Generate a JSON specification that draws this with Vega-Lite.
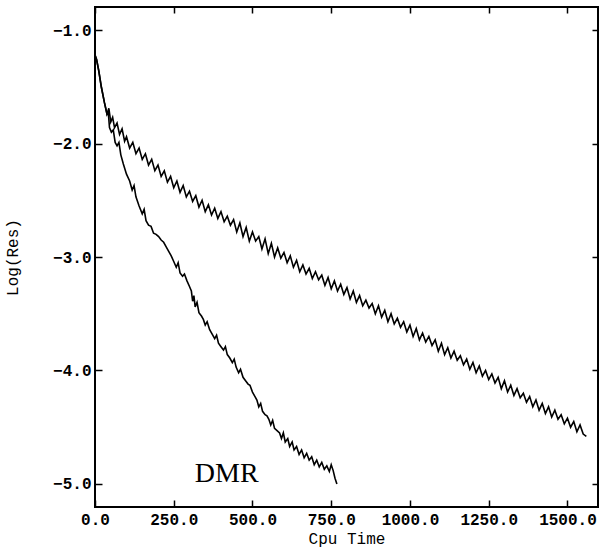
{
  "$schema": "https://vega.github.io/schema/vega-lite/v6.json",
  "width": 503,
  "height": 500,
  "autosize": {"type": "none"},
  "padding": {"left": 95, "top": 7, "right": 13, "bottom": 42},
  "background": "white",
  "config": {
    "view": {"stroke": "black", "strokeWidth": 2},
    "axis": {
      "domain": false,
      "grid": false,
      "tickColor": "black",
      "tickWidth": 1.5,
      "labelColor": "black",
      "labelFont": "Liberation Mono",
      "labelFontWeight": "bold",
      "labelFontSize": 16,
      "titleFont": "Liberation Mono",
      "titleFontWeight": "normal",
      "titleColor": "black"
    }
  },
  "datasets": {
    "upper": [
      {"t": 0, "r": -1.22}, {"t": 5, "r": -1.26}, {"t": 12, "r": -1.36}, {"t": 20, "r": -1.5}, {"t": 30, "r": -1.64}, {"t": 38, "r": -1.74},
      {"t": 44, "r": -1.69}, {"t": 50, "r": -1.81}, {"t": 56, "r": -1.77}, {"t": 62, "r": -1.86}, {"t": 70, "r": -1.82}, {"t": 78, "r": -1.92},
      {"t": 86, "r": -1.87}, {"t": 94, "r": -1.98}, {"t": 100, "r": -1.94}, {"t": 110, "r": -2.04}, {"t": 120, "r": -1.99}, {"t": 130, "r": -2.09},
      {"t": 140, "r": -2.04}, {"t": 150, "r": -2.14}, {"t": 160, "r": -2.09}, {"t": 170, "r": -2.19}, {"t": 180, "r": -2.14}, {"t": 190, "r": -2.24},
      {"t": 200, "r": -2.19}, {"t": 210, "r": -2.29}, {"t": 220, "r": -2.24}, {"t": 230, "r": -2.34}, {"t": 240, "r": -2.29}, {"t": 250, "r": -2.39},
      {"t": 260, "r": -2.33}, {"t": 270, "r": -2.43}, {"t": 280, "r": -2.37}, {"t": 290, "r": -2.47}, {"t": 300, "r": -2.42}, {"t": 310, "r": -2.51},
      {"t": 320, "r": -2.46}, {"t": 330, "r": -2.56}, {"t": 340, "r": -2.5}, {"t": 350, "r": -2.6}, {"t": 360, "r": -2.54}, {"t": 370, "r": -2.63},
      {"t": 380, "r": -2.57}, {"t": 390, "r": -2.66}, {"t": 400, "r": -2.6}, {"t": 410, "r": -2.69}, {"t": 420, "r": -2.64}, {"t": 430, "r": -2.72},
      {"t": 440, "r": -2.67}, {"t": 450, "r": -2.78}, {"t": 460, "r": -2.7}, {"t": 470, "r": -2.82}, {"t": 480, "r": -2.74}, {"t": 490, "r": -2.86},
      {"t": 500, "r": -2.78}, {"t": 510, "r": -2.86}, {"t": 520, "r": -2.82}, {"t": 530, "r": -2.93}, {"t": 540, "r": -2.84}, {"t": 550, "r": -2.97},
      {"t": 560, "r": -2.88}, {"t": 570, "r": -3.0}, {"t": 580, "r": -2.92}, {"t": 590, "r": -3.01}, {"t": 600, "r": -2.96}, {"t": 610, "r": -3.05},
      {"t": 620, "r": -2.99}, {"t": 630, "r": -3.09}, {"t": 640, "r": -3.03}, {"t": 650, "r": -3.13}, {"t": 660, "r": -3.07}, {"t": 670, "r": -3.15},
      {"t": 680, "r": -3.1}, {"t": 690, "r": -3.19}, {"t": 700, "r": -3.13}, {"t": 710, "r": -3.2}, {"t": 720, "r": -3.16}, {"t": 730, "r": -3.25},
      {"t": 740, "r": -3.18}, {"t": 750, "r": -3.28}, {"t": 760, "r": -3.21}, {"t": 770, "r": -3.3}, {"t": 780, "r": -3.24}, {"t": 790, "r": -3.33},
      {"t": 800, "r": -3.27}, {"t": 810, "r": -3.37}, {"t": 820, "r": -3.3}, {"t": 830, "r": -3.4}, {"t": 840, "r": -3.34}, {"t": 850, "r": -3.43},
      {"t": 860, "r": -3.38}, {"t": 870, "r": -3.45}, {"t": 880, "r": -3.41}, {"t": 890, "r": -3.5}, {"t": 900, "r": -3.43}, {"t": 910, "r": -3.53},
      {"t": 920, "r": -3.47}, {"t": 930, "r": -3.57}, {"t": 940, "r": -3.5}, {"t": 950, "r": -3.59}, {"t": 960, "r": -3.54}, {"t": 970, "r": -3.62},
      {"t": 980, "r": -3.57}, {"t": 990, "r": -3.66}, {"t": 1000, "r": -3.6}, {"t": 1010, "r": -3.7}, {"t": 1020, "r": -3.63}, {"t": 1030, "r": -3.73},
      {"t": 1040, "r": -3.67}, {"t": 1050, "r": -3.75}, {"t": 1060, "r": -3.7}, {"t": 1070, "r": -3.78}, {"t": 1080, "r": -3.73}, {"t": 1090, "r": -3.83},
      {"t": 1100, "r": -3.76}, {"t": 1110, "r": -3.86}, {"t": 1120, "r": -3.8}, {"t": 1130, "r": -3.89}, {"t": 1140, "r": -3.83}, {"t": 1150, "r": -3.91},
      {"t": 1160, "r": -3.87}, {"t": 1170, "r": -3.95}, {"t": 1180, "r": -3.9}, {"t": 1190, "r": -3.99}, {"t": 1200, "r": -3.93}, {"t": 1210, "r": -4.02},
      {"t": 1220, "r": -3.96}, {"t": 1230, "r": -4.05}, {"t": 1240, "r": -4.0}, {"t": 1250, "r": -4.08}, {"t": 1260, "r": -4.03}, {"t": 1270, "r": -4.11},
      {"t": 1280, "r": -4.06}, {"t": 1290, "r": -4.16}, {"t": 1300, "r": -4.09}, {"t": 1310, "r": -4.19}, {"t": 1320, "r": -4.13}, {"t": 1330, "r": -4.22},
      {"t": 1340, "r": -4.16}, {"t": 1350, "r": -4.24}, {"t": 1360, "r": -4.2}, {"t": 1370, "r": -4.28}, {"t": 1380, "r": -4.23}, {"t": 1390, "r": -4.32},
      {"t": 1400, "r": -4.26}, {"t": 1410, "r": -4.35}, {"t": 1420, "r": -4.29}, {"t": 1430, "r": -4.38}, {"t": 1440, "r": -4.32}, {"t": 1450, "r": -4.41},
      {"t": 1460, "r": -4.35}, {"t": 1470, "r": -4.43}, {"t": 1480, "r": -4.39}, {"t": 1490, "r": -4.47}, {"t": 1500, "r": -4.42}, {"t": 1510, "r": -4.5},
      {"t": 1520, "r": -4.45}, {"t": 1530, "r": -4.54}, {"t": 1540, "r": -4.48}, {"t": 1550, "r": -4.56}, {"t": 1560, "r": -4.58}
    ],
    "lower": [
      {"t": 0, "r": -1.22}, {"t": 5, "r": -1.26}, {"t": 12, "r": -1.36}, {"t": 20, "r": -1.5}, {"t": 30, "r": -1.64}, {"t": 38, "r": -1.74},
      {"t": 42, "r": -1.72}, {"t": 46, "r": -1.86}, {"t": 52, "r": -1.9}, {"t": 58, "r": -1.88}, {"t": 64, "r": -1.99}, {"t": 70, "r": -2.02},
      {"t": 76, "r": -1.99}, {"t": 82, "r": -2.1}, {"t": 90, "r": -2.18}, {"t": 100, "r": -2.27}, {"t": 110, "r": -2.33}, {"t": 118, "r": -2.41},
      {"t": 124, "r": -2.37}, {"t": 130, "r": -2.47}, {"t": 140, "r": -2.55}, {"t": 150, "r": -2.62}, {"t": 156, "r": -2.58}, {"t": 162, "r": -2.68},
      {"t": 170, "r": -2.72}, {"t": 178, "r": -2.73}, {"t": 186, "r": -2.79}, {"t": 194, "r": -2.8}, {"t": 202, "r": -2.82}, {"t": 210, "r": -2.85},
      {"t": 218, "r": -2.87}, {"t": 226, "r": -2.91}, {"t": 234, "r": -2.95}, {"t": 242, "r": -2.99}, {"t": 250, "r": -3.04}, {"t": 258, "r": -3.09},
      {"t": 264, "r": -3.05}, {"t": 270, "r": -3.14}, {"t": 278, "r": -3.17}, {"t": 284, "r": -3.15}, {"t": 292, "r": -3.21}, {"t": 300, "r": -3.26},
      {"t": 306, "r": -3.3}, {"t": 310, "r": -3.39}, {"t": 314, "r": -3.34}, {"t": 318, "r": -3.44}, {"t": 324, "r": -3.4}, {"t": 330, "r": -3.49},
      {"t": 338, "r": -3.52}, {"t": 344, "r": -3.55}, {"t": 350, "r": -3.6}, {"t": 356, "r": -3.57}, {"t": 364, "r": -3.64}, {"t": 372, "r": -3.68},
      {"t": 380, "r": -3.72}, {"t": 386, "r": -3.69}, {"t": 392, "r": -3.76}, {"t": 400, "r": -3.79}, {"t": 408, "r": -3.82}, {"t": 414, "r": -3.79},
      {"t": 420, "r": -3.86}, {"t": 428, "r": -3.89}, {"t": 436, "r": -3.93}, {"t": 442, "r": -3.9}, {"t": 448, "r": -3.97}, {"t": 456, "r": -4.02},
      {"t": 462, "r": -3.99}, {"t": 470, "r": -4.06}, {"t": 478, "r": -4.09}, {"t": 486, "r": -4.12}, {"t": 492, "r": -4.13}, {"t": 500, "r": -4.19},
      {"t": 508, "r": -4.23}, {"t": 514, "r": -4.26}, {"t": 520, "r": -4.32}, {"t": 526, "r": -4.29}, {"t": 532, "r": -4.36}, {"t": 540, "r": -4.39},
      {"t": 546, "r": -4.4}, {"t": 552, "r": -4.43}, {"t": 558, "r": -4.48}, {"t": 564, "r": -4.44}, {"t": 570, "r": -4.51}, {"t": 578, "r": -4.53},
      {"t": 586, "r": -4.55}, {"t": 592, "r": -4.6}, {"t": 598, "r": -4.55}, {"t": 604, "r": -4.63}, {"t": 612, "r": -4.6}, {"t": 618, "r": -4.67},
      {"t": 626, "r": -4.63}, {"t": 632, "r": -4.7}, {"t": 640, "r": -4.67}, {"t": 648, "r": -4.74}, {"t": 656, "r": -4.7}, {"t": 664, "r": -4.77},
      {"t": 672, "r": -4.73}, {"t": 680, "r": -4.79}, {"t": 688, "r": -4.76}, {"t": 696, "r": -4.83}, {"t": 704, "r": -4.79}, {"t": 712, "r": -4.85},
      {"t": 720, "r": -4.81}, {"t": 728, "r": -4.87}, {"t": 736, "r": -4.84}, {"t": 744, "r": -4.89}, {"t": 750, "r": -4.83}, {"t": 756, "r": -4.88},
      {"t": 762, "r": -4.95}, {"t": 768, "r": -5.0}
    ],
    "label": [{"t": 418, "r": -4.98, "name": "DMR"}]
  },
  "resolve": {"axis": {"x": "independent", "y": "independent"}},
  "layer": [
    {
      "data": {"name": "upper"},
      "mark": {"type": "line", "color": "black", "strokeWidth": 1.6, "clip": true},
      "encoding": {
        "x": {
          "field": "t", "type": "quantitative",
          "scale": {"domain": [0, 1597], "nice": false, "zero": false},
          "axis": {"orient": "bottom", "offset": -7, "tickSize": 7, "tickColor": "black", "title": "Cpu Time", "titleFontSize": 16, "titlePadding": 3, "tickCount": 7, "values": [0, 250, 500, 750, 1000, 1250, 1500], "format": ".1f", "labelPadding": 4, "labelFlush": false}
        },
        "y": {
          "field": "r", "type": "quantitative",
          "scale": {"domain": [-5.203, -0.797], "nice": false, "zero": false},
          "axis": {"orient": "left", "offset": -7, "tickSize": 7, "tickColor": "black", "title": "Log(Res)", "titleFontSize": 16, "titlePadding": 32, "values": [-5, -4, -3, -2, -1], "format": ".1f", "labelPadding": 4}
        }
      }
    },
    {
      "data": {"name": "lower"},
      "mark": {"type": "line", "color": "black", "strokeWidth": 1.6, "clip": true},
      "encoding": {
        "x": {
          "field": "t", "type": "quantitative",
          "axis": {"orient": "top", "offset": -6, "tickSize": 6, "tickColor": "black", "title": null, "labels": false, "values": [0, 250, 500, 750, 1000, 1250, 1500]}
        },
        "y": {
          "field": "r", "type": "quantitative",
          "axis": {"orient": "right", "offset": -6, "tickSize": 6, "tickColor": "black", "title": null, "labels": false, "values": [-5, -4, -3, -2, -1]}
        }
      }
    },
    {
      "data": {"name": "label"},
      "mark": {"type": "text", "font": "Liberation Serif", "fontSize": 28, "color": "black", "align": "center", "baseline": "alphabetic"},
      "encoding": {
        "x": {"field": "t", "type": "quantitative", "axis": null},
        "y": {"field": "r", "type": "quantitative", "axis": null},
        "text": {"field": "name"}
      }
    }
  ]
}
